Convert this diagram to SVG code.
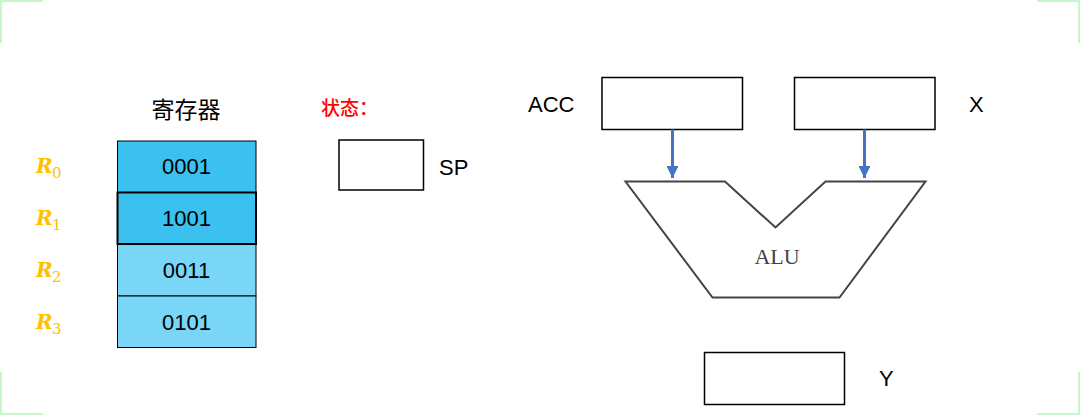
<svg xmlns="http://www.w3.org/2000/svg" width="1080" height="415" viewBox="0 0 1080 415">
<defs>
<style>
.box{fill:#fff;stroke:#000;stroke-width:1.5}
.lbl{font-family:"Liberation Sans",Arial,sans-serif;font-size:22px;fill:#000}
.cell{stroke:#000;stroke-width:1}
.celltxt{font-family:"Liberation Sans",Arial,sans-serif;font-size:22px;fill:#000;text-anchor:middle}
.rl{font-family:"DejaVu Serif","Liberation Serif",serif;fill:#FFC000}
.corner{stroke:#C6F7C6;stroke-width:2;fill:none}
.conn{stroke:#4472C4;stroke-width:3;fill:none}
</style>
<marker id="ah" markerWidth="12" markerHeight="12" refX="12" refY="6" orient="auto" markerUnits="userSpaceOnUse" viewBox="0 0 12 12">
<path d="M0,0 L12,6 L0,12 Z" fill="#4472C4"/>
</marker>
</defs>
<rect width="1080" height="415" fill="#fff"/>
<g id="corners">
<path class="corner" d="M1,43 V1 H43"/>
<path class="corner" d="M1037,1 H1079 V43"/>
<path class="corner" d="M1,372 V414 H43"/>
<path class="corner" d="M1037,414 H1079 V372"/>
</g>
<g id="registers">
<text x="186" y="118" font-family="Noto Sans CJK SC,sans-serif" font-size="23" text-anchor="middle" fill="#000">寄存器</text>
<g id="r0">
<rect class="cell" x="117.5" y="141" width="138.5" height="51.5" fill="#3BC0F0"/>
<text class="celltxt" x="186.5" y="174">0001</text>
<text class="rl" x="36" y="173" font-size="20" font-style="italic" font-weight="bold">R</text>
<text class="rl" x="52" y="178" font-size="15">0</text>
</g>
<g id="r1">
<rect x="117.5" y="192.5" width="138.5" height="51.5" fill="#3BC0F0" stroke="#000" stroke-width="2"/>
<text class="celltxt" x="186.5" y="226">1001</text>
<text class="rl" x="36" y="225" font-size="20" font-style="italic" font-weight="bold">R</text>
<text class="rl" x="52" y="230" font-size="15">1</text>
</g>
<g id="r2">
<rect class="cell" x="117.5" y="244.5" width="138.5" height="51.5" fill="#7AD6F6"/>
<text class="celltxt" x="186.5" y="278">0011</text>
<text class="rl" x="36" y="277" font-size="20" font-style="italic" font-weight="bold">R</text>
<text class="rl" x="52" y="282" font-size="15">2</text>
</g>
<g id="r3">
<rect class="cell" x="117.5" y="296" width="138.5" height="51.5" fill="#7AD6F6"/>
<text class="celltxt" x="186.5" y="330">0101</text>
<text class="rl" x="36" y="329" font-size="20" font-style="italic" font-weight="bold">R</text>
<text class="rl" x="52" y="334" font-size="15">3</text>
</g>
</g>
<g id="status">
<text x="321" y="115" font-family="Noto Sans CJK SC,sans-serif" font-size="19" font-weight="500" fill="#FF0000">状态：</text>
</g>
<g id="sp">
<rect class="box" x="339" y="140" width="84.5" height="50"/>
<text class="lbl" x="439" y="175">SP</text>
</g>
<g id="acc">
<rect class="box" x="602" y="77.5" width="140.5" height="52"/>
<text class="lbl" x="528" y="112">ACC</text>
</g>
<g id="x">
<rect class="box" x="794.5" y="77.5" width="140.5" height="52"/>
<text class="lbl" x="969" y="112">X</text>
</g>
<g id="alu">
<polygon points="625.5,181.5 725,181.5 775.5,227.5 825.5,181.5 925.5,181.5 839.5,297.5 712.5,297.5" fill="#fff" stroke="#444" stroke-width="2"/>
<text x="777" y="264" font-family="Liberation Serif,serif" font-size="22" text-anchor="middle" fill="#444">ALU</text>
</g>
<g id="y">
<rect class="box" x="704.5" y="352.5" width="140" height="52"/>
<text class="lbl" x="879" y="386">Y</text>
</g>
<g id="connectors">
<line class="conn" x1="672.5" y1="129.5" x2="672.5" y2="178" marker-end="url(#ah)"/>
<line class="conn" x1="864.5" y1="129.5" x2="864.5" y2="178" marker-end="url(#ah)"/>
</g>
</svg>
